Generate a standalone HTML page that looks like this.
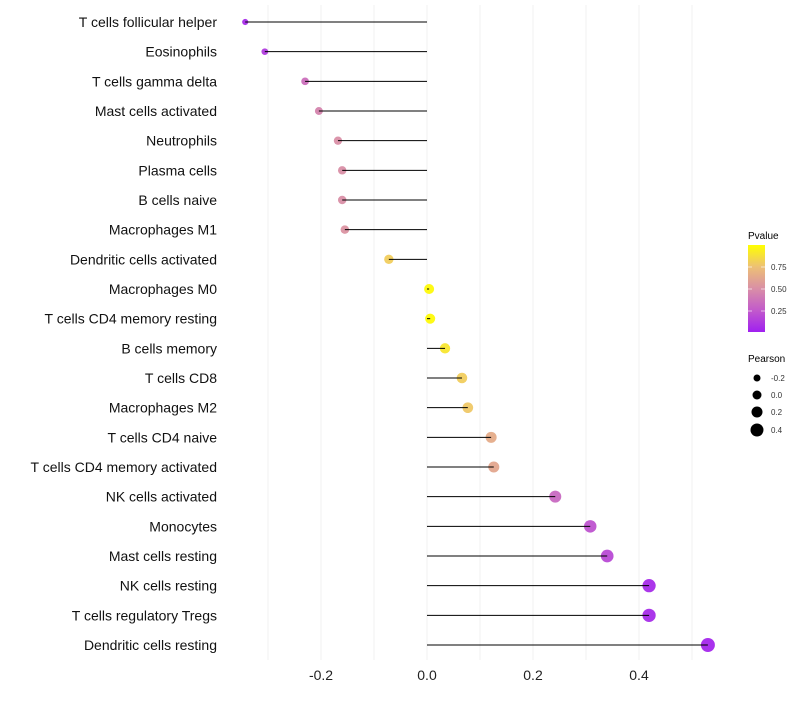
<!DOCTYPE html>
<html><head><meta charset="utf-8"><style>
body{margin:0;background:#fff;font-family:"Liberation Sans",sans-serif}
svg text{font-family:"Liberation Sans",sans-serif}
</style></head><body>
<svg id="chart" width="800" height="700">
<defs><linearGradient id="pg" x1="0" y1="1" x2="0" y2="0">
<stop offset="0" stop-color="#A020F0"/><stop offset="0.25" stop-color="#C25ACB"/>
<stop offset="0.5" stop-color="#D98FA6"/><stop offset="0.75" stop-color="#EDC075"/>
<stop offset="1" stop-color="#FFFF00"/></linearGradient></defs>
<g id="grid"></g><g id="marks"></g><g id="labels"></g>
<g>
<text x="748" y="239" font-size="10">Pvalue</text>
<rect x="748" y="245" width="17" height="87" fill="url(#pg)"/>
<g stroke="#fff" stroke-opacity="0.6"><line x1="748" x2="752" y1="267" y2="267"/><line x1="761" x2="765" y1="267" y2="267"/><line x1="748" x2="752" y1="289" y2="289"/><line x1="761" x2="765" y1="289" y2="289"/><line x1="748" x2="752" y1="311" y2="311"/><line x1="761" x2="765" y1="311" y2="311"/></g>
<g font-size="8" fill="#333"><text x="771" y="270">0.75</text><text x="771" y="292">0.50</text><text x="771" y="314">0.25</text></g>
<text x="748" y="362" font-size="10">Pearson</text>
<g fill="#000"><circle cx="757" cy="378" r="3.5"/><circle cx="757" cy="395" r="4.5"/><circle cx="757" cy="412" r="5.5"/><circle cx="757" cy="430" r="6.5"/></g>
<g font-size="8" fill="#333"><text x="771" y="381">-0.2</text><text x="771" y="398">0.0</text><text x="771" y="415">0.2</text><text x="771" y="433">0.4</text></g>
</g>
</svg>
<script>
const categories=["T cells follicular helper","Eosinophils","T cells gamma delta","Mast cells activated","Neutrophils","Plasma cells","B cells naive","Macrophages M1","Dendritic cells activated","Macrophages M0","T cells CD4 memory resting","B cells memory","T cells CD8","Macrophages M2","T cells CD4 naive","T cells CD4 memory activated","NK cells activated","Monocytes","Mast cells resting","NK cells resting","T cells regulatory  Tregs","Dendritic cells resting"];
const pearson=[-0.343,-0.306,-0.230,-0.204,-0.168,-0.160,-0.160,-0.155,-0.072,0.004,0.006,0.034,0.066,0.077,0.121,0.126,0.242,0.308,0.340,0.419,0.419,0.530];
const pvalue=[0.05,0.12,0.35,0.45,0.5,0.5,0.5,0.52,0.8,0.98,0.98,0.9,0.8,0.78,0.65,0.62,0.32,0.22,0.18,0.05,0.05,0.03];
const xTicks=[-0.2,0.0,0.2,0.4];
const NS="http://www.w3.org/2000/svg";
const X=v=>427+v*530;
const Y=i=>22+i*(623/21);
function col(p){const s=[[0,[160,32,240]],[0.25,[194,90,203]],[0.5,[217,143,166]],[0.75,[237,192,117]],[1,[255,255,0]]];
for(let k=1;k<s.length;k++){if(p<=s[k][0]){const t=(p-s[k-1][0])/(s[k][0]-s[k-1][0]);const a=s[k-1][1],b=s[k][1];return `rgb(${a.map((c,j)=>Math.round(c+(b[j]-c)*t)).join(',')})`;}}return 'rgb(255,255,0)';}
function mk(t,a,p){const e=document.createElementNS(NS,t);for(const k in a)e.setAttribute(k,a[k]);p.appendChild(e);return e;}
const g=document.getElementById('grid'),m=document.getElementById('marks'),l=document.getElementById('labels');
for(let v=-0.3;v<=0.55;v+=0.1){const x=X(Math.round(v*10)/10);const ln=mk('line',{x1:x,x2:x,y1:5,y2:660,stroke:'#f0f0f0','stroke-width':1},g);

}
xTicks.forEach(v=>{const t=mk('text',{x:X(v),y:680,'font-size':14,'text-anchor':'middle',fill:'#222'},l);t.textContent=v.toFixed(1);

});
categories.forEach((c,i)=>{const y=Y(i),v=pearson[i];
const r=Math.sqrt(Math.max(4,25+45*v));
const pt=mk('circle',{cx:X(v),cy:y,r:r,fill:col(pvalue[i]),'fill-opacity':0.95},m);


const ln=mk('line',{x1:X(0),x2:X(v),y1:y,y2:y,stroke:'#000','stroke-width':1},m);


const t=mk('text',{x:217,y:y+5,'font-size':14,'text-anchor':'end',fill:'#111'},l);t.textContent=c;

});
</script>
</body></html>
